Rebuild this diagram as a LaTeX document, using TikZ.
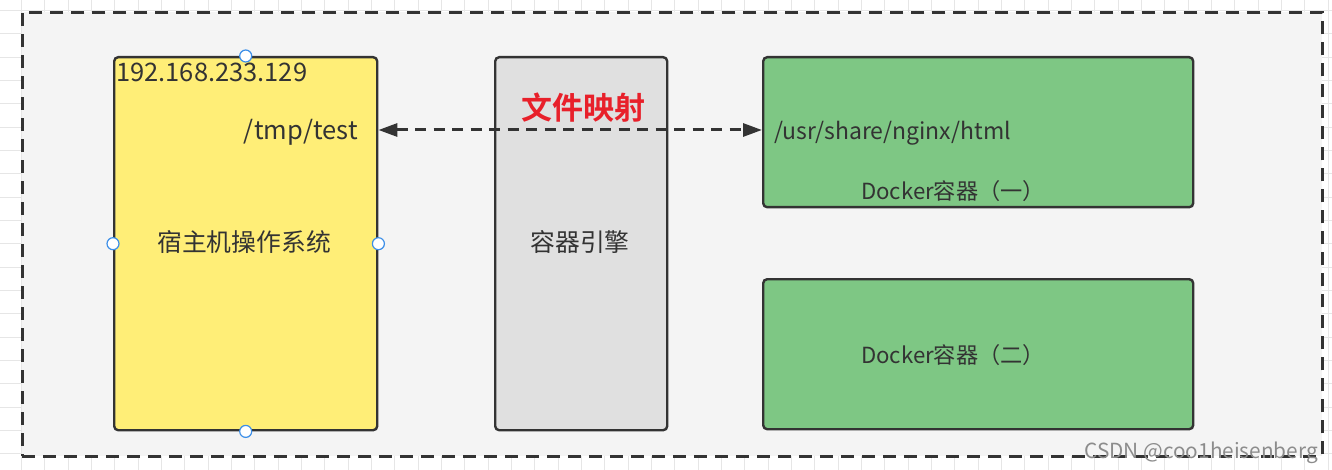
\documentclass[tikz,border=0pt]{standalone}
\usepackage{fontspec}
\setmainfont{Noto Sans CJK SC}
\newfontfamily\cjkbold[BoldFont={* Bold}]{Noto Sans CJK SC}
\usetikzlibrary{arrows.meta}
\definecolor{ink}{HTML}{333333}
\definecolor{bgfill}{HTML}{F4F4F4}
\definecolor{gridc}{HTML}{E6E6E6}
\definecolor{yel}{HTML}{FFEE77}
\definecolor{grn}{HTML}{7EC784}
\definecolor{gry}{HTML}{E0E0E0}
\definecolor{redt}{HTML}{E8202A}
\definecolor{handle}{HTML}{3D8FE8}
\newcommand{\fsz}[1]{\fontsize{#1}{#1}\selectfont}
\tikzset{
  box/.style={draw=ink, line width=2.4pt, rounded corners=4pt, inner sep=0pt, anchor=north west},
  lbl/.style={text=ink, inner sep=0pt},
  hdl/.style={circle, draw=handle, fill=white, line width=1.2pt, minimum size=12pt, inner sep=0pt},
  maparrow/.style={draw=ink, line width=3pt, dash pattern=on 11pt off 7.5pt,
     {Triangle[length=19pt,width=13pt]}-{Triangle[length=19pt,width=13pt]}},
}
\begin{document}
\begin{tikzpicture}[x=1pt,y=-1pt]
\useasboundingbox (0,0) rectangle (1332,470);
\fill[white] (0,0) rectangle (1332,470);
\foreach \i in {0,...,57} {\draw[gridc, line width=0.8pt] (21.5+23.33*\i-23.33,0) -- ++(0,470);}
\foreach \j in {0,...,20} {\draw[gridc, line width=0.8pt] (0,10.5+23.33*\j) -- ++(1332,0);}
% outer dashed frame
\node[draw=ink, fill=bgfill, line width=2.8pt, dash pattern=on 13pt off 8pt, inner sep=0pt,
      minimum width=1300pt, minimum height=444pt, anchor=north west] (frame) at (21,11) {};
% boxes
\node[box, fill=yel, minimum width=263pt, minimum height=373pt] (host) at (113,56) {};
\node[box, fill=gry, minimum width=172pt, minimum height=373pt] (engine) at (494,56) {};
\node[box, fill=grn, minimum width=430pt, minimum height=150pt] (c1) at (762,56) {};
\node[box, fill=grn, minimum width=430pt, minimum height=150pt] (c2) at (762,278) {};
% texts
\node[lbl, anchor=base west, font=\fsz{25.5}] (ip) at (116,82) {192.168.233.129};
\node[lbl, anchor=base east, font=\fsz{25.5}] (tmp) at (358,140) {/tmp/test};
\node[lbl, font=\fsz{24.8}] (hostos) at (244,242) {宿主机操作系统};
\node[lbl, font=\fsz{24.8}] (eng) at (580,242) {容器引擎};
\node[lbl, anchor=base west, font=\fsz{23}] (usr) at (774,140) {/usr/share/nginx/html};
\node[lbl, anchor=base, font=\fsz{22.2}] (d1) at (953,200) {Docker容器（一）};
\node[lbl, font=\fsz{22.2}] (d2) at (953,355) {Docker容器（二）};
\node[inner sep=0pt, text=redt, font=\cjkbold\bfseries\fsz{31}] (map) at (583,108) {文件映射};
% mapping arrow
\coordinate (aL) at (host.east |- 0,130);
\coordinate (aR) at (c1.west |- 0,130);
\draw[maparrow] (aL) -- (aR);
% selection handles
\node[hdl] (h1) at (host.north) {};
\node[hdl] (h2) at (host.west) {};
\node[hdl] (h3) at (host.east) {};
\node[hdl] (h4) at (host.south) {};
% watermark
\node[inner sep=0pt, anchor=base east, text=black!45, font=\fsz{20.8}] (wm) at (1318,458) {CSDN @coo1heisenberg};
\end{tikzpicture}
\end{document}
